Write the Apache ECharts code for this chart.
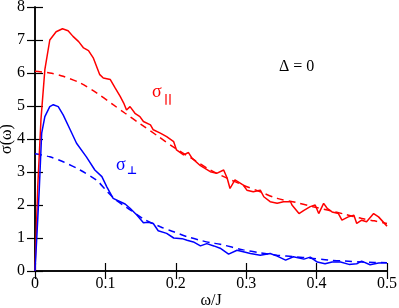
<!DOCTYPE html>
<html><head><meta charset="utf-8">
<script src="https://cdn.jsdelivr.net/npm/echarts@6/dist/echarts.min.js"></script>
<style>html,body{margin:0;padding:0;background:#fff}#c{width:399px;height:308px}</style>
</head><body><div id="c"></div>
<script>
// sigma_parallel (solid, red)
const parX = [0,0.004,0.0085,0.014,0.021,0.030,0.039,0.047,0.054,0.062,0.069,0.076,0.083,0.092,0.097,0.107,0.114,0.121,0.126,0.130,0.135,0.142,0.149,0.154,0.164,0.168,0.178,0.187,0.197,0.201,0.211,0.218,0.223,0.235,0.249,0.258,0.268,0.273,0.277,0.284,0.296,0.301,0.310,0.320,0.325,0.334,0.344,0.353,0.363,0.365,0.375,0.382,0.391,0.398,0.403,0.410,0.415,0.422,0.431,0.436,0.445,0.453,0.457,0.464,0.471,0.481,0.488,0.500];
const parY = [0,2.6,4.6,6.1,7.0,7.25,7.34,7.28,7.11,6.95,6.76,6.68,6.45,5.95,5.85,5.80,5.54,5.29,5.09,4.88,4.98,4.78,4.68,4.53,4.43,4.28,4.18,4.07,3.92,3.67,3.52,3.59,3.42,3.19,3.01,2.96,3.06,2.81,2.50,2.76,2.60,2.45,2.40,2.45,2.25,2.10,2.05,2.10,2.10,2.00,1.74,1.84,1.95,2.00,1.74,2.05,1.90,1.79,1.74,1.54,1.64,1.69,1.44,1.54,1.49,1.74,1.64,1.36];
// sigma_parallel (dashed, red)
const parFitX = [0,0.021,0.040,0.064,0.088,0.111,0.128,0.150,0.175,0.199,0.225,0.249,0.272,0.296,0.320,0.344,0.370,0.395,0.417,0.440,0.464,0.482,0.500];
const parFitY = [6.05,6.00,5.90,5.70,5.39,5.04,4.78,4.45,4.08,3.72,3.38,3.06,2.82,2.60,2.40,2.20,2.08,1.95,1.84,1.72,1.59,1.52,1.44];
// sigma_perp (solid, blue)
const perpX = [0,0.003,0.006,0.0095,0.014,0.021,0.026,0.033,0.040,0.050,0.059,0.073,0.085,0.095,0.102,0.111,0.118,0.121,0.128,0.135,0.145,0.154,0.161,0.168,0.175,0.187,0.197,0.209,0.216,0.225,0.235,0.244,0.254,0.263,0.275,0.287,0.306,0.320,0.334,0.344,0.356,0.367,0.382,0.391,0.401,0.412,0.422,0.434,0.446,0.457,0.464,0.476,0.488,0.500];
const perpY = [0,1.2,2.45,4.18,4.68,4.98,5.04,4.98,4.73,4.28,3.87,3.46,3.06,2.86,2.55,2.20,2.13,2.10,2.03,1.90,1.69,1.46,1.48,1.44,1.22,1.14,1.00,0.98,0.93,0.88,0.76,0.83,0.76,0.69,0.51,0.63,0.53,0.48,0.53,0.45,0.33,0.43,0.36,0.42,0.27,0.22,0.27,0.27,0.20,0.22,0.30,0.19,0.24,0.25];
// sigma_perp (dashed, blue)
const perpFitX = [0,0.021,0.040,0.064,0.088,0.102,0.115,0.130,0.154,0.178,0.197,0.216,0.235,0.249,0.263,0.296,0.320,0.344,0.370,0.391,0.417,0.440,0.464,0.482,0.500];
const perpFitY = [3.55,3.46,3.31,3.06,2.74,2.42,2.15,1.93,1.58,1.34,1.19,1.04,0.93,0.86,0.81,0.64,0.55,0.48,0.43,0.39,0.33,0.30,0.27,0.26,0.25];

const xTicks = [0, 0.1, 0.2, 0.3, 0.4, 0.5];
const yTicks = [0,1,2,3,4,5,6,7,8];

function zip(a,b){const n=Math.min(a.length,b.length);const r=[];for(let i=0;i<n;i++)r.push([a[i],b[i]]);return r;}

const FONT = '"Liberation Serif","DejaVu Serif",serif';
const chart = echarts.init(document.getElementById('c'), null, {renderer:'canvas'});
const axLine = {show:true, lineStyle:{color:'#000', width:1.5}};
const tick = {show:true, inside:true, length:8, lineStyle:{color:'#000', width:1.2}};
const lbl = {color:'#000', fontFamily:FONT, fontSize:16};
chart.setOption({
  animation:false,
  grid:{left:35, right:12, top:7, bottom:37, containLabel:false, outerBoundsMode:'none'},
  xAxis:[
    {type:'value', min:xTicks[0], max:xTicks[xTicks.length-1], interval:0.1, position:'bottom',
     axisLine:axLine, axisTick:tick, splitLine:{show:false},
     axisLabel:Object.assign({margin:5, formatter:v=>v===0?'0':v.toFixed(1), showMaxLabel:true, showMinLabel:true, hideOverlap:false}, lbl),
     name:'ω/J', nameLocation:'middle', nameGap:22, nameMoveOverlap:false, nameTextStyle:{color:'#000', fontFamily:FONT, fontSize:16}},
    {type:'value', min:0, max:0.5, interval:0.1, position:'top',
     axisLine:axLine, axisTick:tick, axisLabel:{show:false}, splitLine:{show:false}}
  ],
  yAxis:[
    {type:'value', min:yTicks[0], max:yTicks[yTicks.length-1], interval:1, position:'left',
     axisLine:axLine, axisTick:tick, splitLine:{show:false},
     axisLabel:Object.assign({margin:10}, lbl),
     name:'σ(ω)', nameLocation:'middle', nameGap:20, nameRotate:90, nameMoveOverlap:false, nameTextStyle:{color:'#000', fontFamily:FONT, fontSize:16}},
    {type:'value', min:0, max:8, interval:1, position:'right',
     axisLine:axLine, axisTick:tick, axisLabel:{show:false}, splitLine:{show:false}}
  ],
  series:[
    {type:'line', data:zip(parX,parY), showSymbol:false, lineStyle:{color:'#ff0000', width:1.5}, z:3},
    {type:'line', data:zip(parFitX,parFitY), showSymbol:false, smooth:0.3, lineStyle:{color:'#ff0000', width:1.5, type:[7,5]}, z:2},
    {type:'line', data:zip(perpX,perpY), showSymbol:false, lineStyle:{color:'#0000ff', width:1.5}, z:3},
    {type:'line', data:zip(perpFitX,perpFitY), showSymbol:false, smooth:0.3, lineStyle:{color:'#0000ff', width:1.5, type:[7,5]}, z:2}
  ],
  graphic:[
    {type:'text', left:279, top:59, style:{text:'Δ = 0', fill:'#000', font:'16px '+FONT}},
    {type:'text', left:152, top:83, style:{text:'σ', fill:'#ff0000', font:'18px '+FONT}},
    {type:'text', left:164, top:94, style:{text:'||', fill:'#ff0000', font:'bold 11px "DejaVu Sans",sans-serif'}},
    {type:'text', left:116, top:156, style:{text:'σ', fill:'#0000ff', font:'18px '+FONT}},
    {type:'text', left:127, top:166, style:{text:'⊥', fill:'#0000ff', font:'bold 11px "DejaVu Sans",sans-serif'}}
  ]
});
</script></body></html>
